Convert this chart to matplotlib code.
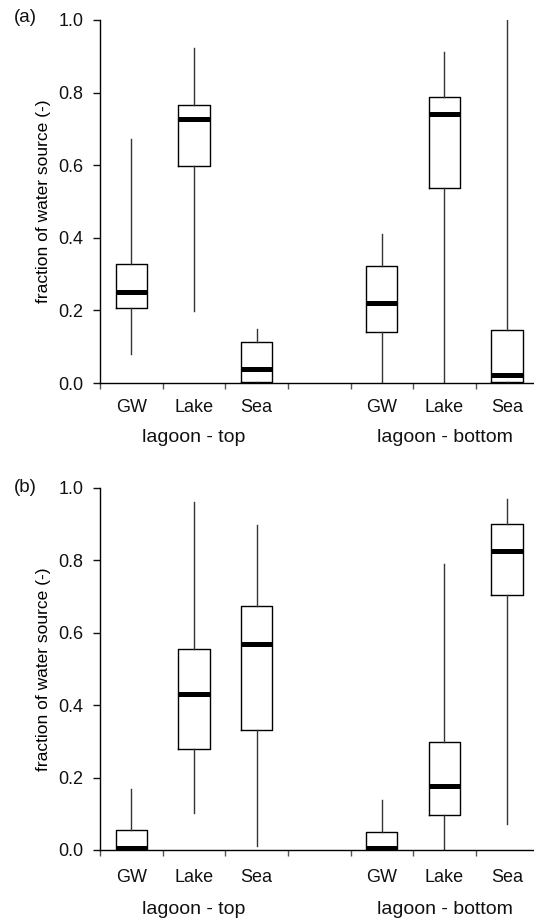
"""Box plots of water source fractions (lagoon top / bottom)"""
import matplotlib
matplotlib.use('Agg')
import matplotlib.pyplot as plt
import matplotlib.transforms as mtransforms

plt.rcParams['font.family'] = ['Liberation Sans', 'DejaVu Sans']

sources = ['GW', 'Lake', 'Sea']
groups = ['lagoon - top', 'lagoon - bottom']

# box stats per panel: order GW, Lake, Sea (top) then GW, Lake, Sea (bottom)
a_whislo = [0.080, 0.198, 0.000, 0.000, 0.000, 0.000]
a_q1 = [0.207, 0.598, 0.003, 0.140, 0.537, 0.003]
a_med = [0.251, 0.727, 0.039, 0.220, 0.741, 0.022]
a_q3 = [0.328, 0.766, 0.113, 0.322, 0.788, 0.146]
a_whishi = [0.672, 0.923, 0.149, 0.410, 0.912, 1.000]

b_whislo = [0.000, 0.102, 0.011, 0.000, 0.000, 0.072]
b_q1 = [0.000, 0.279, 0.331, 0.000, 0.097, 0.704]
b_med = [0.006, 0.431, 0.569, 0.006, 0.177, 0.826]
b_q3 = [0.055, 0.555, 0.674, 0.050, 0.298, 0.901]
b_whishi = [0.168, 0.961, 0.898, 0.138, 0.790, 0.970]

positions = [0.5, 1.5, 2.5, 4.5, 5.5, 6.5]

W, H = 534, 923
fig = plt.figure(figsize=(W / 100, H / 100), dpi=100)


def px_axes(top, bottom):
    left = 100
    return fig.add_axes([left / W, 1 - bottom / H, (W - left) / W, (bottom - top) / H])


def draw_panel(ax, whislo, q1, med, q3, whishi, letter, tick_off, group_off):
    stats = []
    for i in range(len(positions)):
        stats.append({'whislo': whislo[i], 'q1': q1[i], 'med': med[i],
                      'q3': q3[i], 'whishi': whishi[i], 'fliers': []})
    ax.bxp(stats, positions=positions, widths=0.5, showcaps=False,
           showfliers=False, patch_artist=False,
           boxprops=dict(color='black', linewidth=1.0),
           whiskerprops=dict(color='#333333', linewidth=1.0),
           medianprops=dict(color='black', linewidth=3.6, solid_capstyle='butt'))

    ax.set_xlim(0, 6.93)
    ax.set_ylim(0, 1.0)
    for s in ['top', 'right']:
        ax.spines[s].set_visible(False)
    ax.spines['left'].set_linewidth(1.0)
    ax.spines['bottom'].set_linewidth(1.0)

    ax.set_yticks([0.0, 0.2, 0.4, 0.6, 0.8, 1.0])
    ax.set_yticklabels(['0.0', '0.2', '0.4', '0.6', '0.8', '1.0'])
    ax.tick_params(axis='y', direction='out', length=5, width=1, pad=7,
                   labelsize=13, colors='#111111')
    ax.set_xticks(range(7))
    ax.set_xticklabels([])
    ax.tick_params(axis='x', direction='out', length=4, width=1, color='#555555')
    ax.set_ylabel('fraction of water source (-)', fontsize=12.5, labelpad=5)

    trans = mtransforms.blended_transform_factory(ax.transData, ax.transAxes)
    off = mtransforms.ScaledTranslation(0, -tick_off / 100, fig.dpi_scale_trans)
    goff = mtransforms.ScaledTranslation(0, -group_off / 100, fig.dpi_scale_trans)
    for i, p in enumerate(positions):
        ax.text(p, 0, sources[i % 3], transform=trans + off, ha='center',
                va='center', fontsize=13, color='#111111')
    for g, p in zip(groups, [1.5, 5.5]):
        ax.text(p, 0, g, transform=trans + goff, ha='center', va='center',
                fontsize=14, color='#111111')
    fig.text(25 / W, 1 - letter / H, '(a)' if letter < 400 else '(b)',
             ha='center', va='center', fontsize=13.5, color='#111111')


ax1 = px_axes(20, 383)
draw_panel(ax1, a_whislo, a_q1, a_med, a_q3, a_whishi, 18, 25, 54)

ax2 = px_axes(488, 850)
draw_panel(ax2, b_whislo, b_q1, b_med, b_q3, b_whishi, 488, 27, 59)

fig.savefig('out.png', dpi=100)
plt.close(fig)
